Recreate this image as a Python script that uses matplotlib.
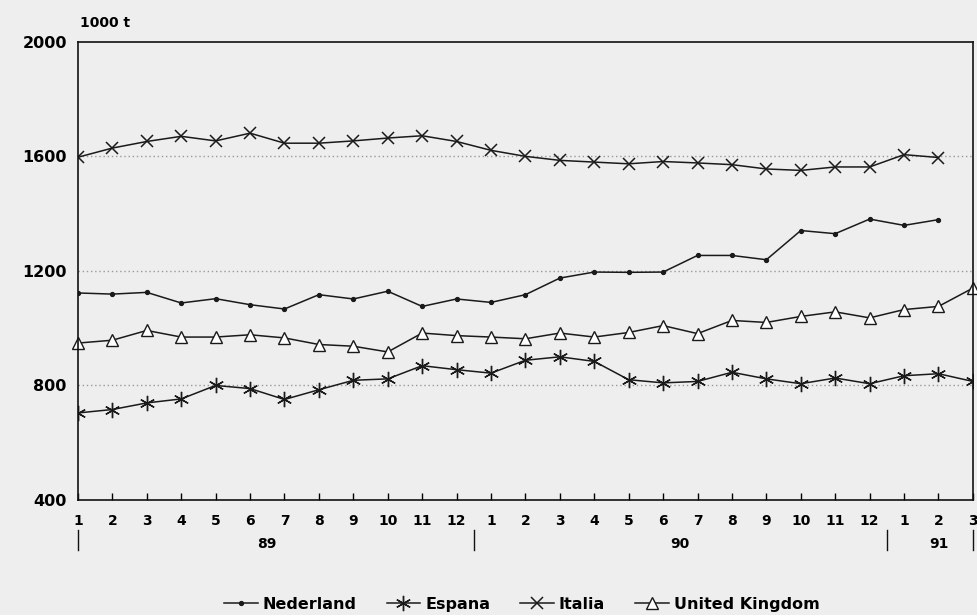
import numpy as np
import matplotlib
matplotlib.use('Agg')
import matplotlib.pyplot as plt
import matplotlib.transforms as transforms

months = ['1', '2', '3', '4', '5', '6', '7', '8', '9', '10', '11', '12',
          '1', '2', '3', '4', '5', '6', '7', '8', '9', '10', '11', '12',
          '1', '2', '3']
years = ['89', '90', '91']

nederland = [1123, 1119, 1125, 1088, 1103, 1082, 1067, 1117, 1102, 1129, 1076, 1102,
             1090, 1117, 1175, 1196, 1195, 1196, 1254, 1254, 1239, 1341, 1330, 1381,
             1359, 1379]
espana = [704, 716, 739, 753, 800, 789, 751, 785, 818, 823, 869, 855,
          843, 888, 900, 884, 820, 809, 814, 846, 823, 806, 826, 806,
          834, 841, 814]
italia = [1597, 1629, 1652, 1670, 1654, 1681, 1646, 1646, 1654, 1664, 1672, 1652,
          1621, 1600, 1586, 1580, 1574, 1582, 1577, 1571, 1556, 1551, 1563, 1563,
          1606, 1596]
united_kingdom = [948, 958, 992, 969, 969, 977, 966, 943, 937, 917, 983, 974,
                  969, 963, 983, 969, 985, 1009, 981, 1027, 1020, 1041, 1057, 1036,
                  1065, 1076, 1140]

bg = '#eeeeee'
plt.rcParams['font.family'] = ['DejaVu Sans']
plt.rcParams['font.weight'] = 'bold'

fig = plt.figure(figsize=(9.77, 6.15), dpi=100, facecolor=bg)
ax = fig.add_axes([0.0798, 0.187, 0.916, 0.745], facecolor=bg)

x_all = np.arange(len(months))
line_kw = dict(color='#1a1a1a', lw=1.1)
ax.plot(x_all[:len(nederland)], nederland, marker='o', ms=2.8, label='Nederland', **line_kw)
ax.plot(x_all[:len(espana)], espana, marker=(6, 2, 0), ms=11, mew=1.0, label='Espana', **line_kw)
ax.plot(x_all[:len(italia)], italia, marker='x', ms=9, mew=1.1, label='Italia', **line_kw)
ax.plot(x_all[:len(united_kingdom)], united_kingdom, marker='^', ms=8, mfc='white',
        mew=1.0, label='United Kingdom', clip_on=False, **line_kw)

ax.set_xlim(0, len(months) - 1)
ax.set_ylim(400, 2000)
ax.set_yticks([400, 800, 1200, 1600, 2000])
for yv in [800, 1200, 1600]:
    ax.axhline(yv, color='#999999', lw=1.0, ls=(0, (1, 2)), zorder=0)

ax.tick_params(axis='y', length=0, pad=8, labelsize=11.5)
ax.set_xticks(x_all)
ax.set_xticklabels(months)
ax.tick_params(axis='x', direction='in', length=5, width=1, pad=10, labelsize=10)
for lab in ax.get_xticklabels() + ax.get_yticklabels():
    lab.set_fontweight('bold')

for s in ax.spines.values():
    s.set_color('#111111')
    s.set_linewidth(1.2)

trans = transforms.blended_transform_factory(ax.transData, ax.transAxes)
for xs in [0, 11.5, 23.5, 26]:
    ax.plot([xs, xs], [-0.065, -0.11], transform=trans, color='#111111', lw=1.0, clip_on=False)
for yx, yl in zip([5.5, 17.5, 25], years):
    ax.text(yx, -0.097, yl, transform=trans, ha='center', va='center',
            fontsize=10, fontweight='bold')

fig.text(0.082, 0.963, '1000 t', fontsize=10, fontweight='bold', va='center')

leg = fig.legend(loc='lower center', bbox_to_anchor=(0.534, -0.018), ncol=4, frameon=False,
                 fontsize=11.5, handlelength=2.1, handletextpad=0.3, columnspacing=1.9)
for t in leg.get_texts():
    t.set_fontweight('bold')

plt.savefig('out.png', dpi=100, facecolor=bg)
